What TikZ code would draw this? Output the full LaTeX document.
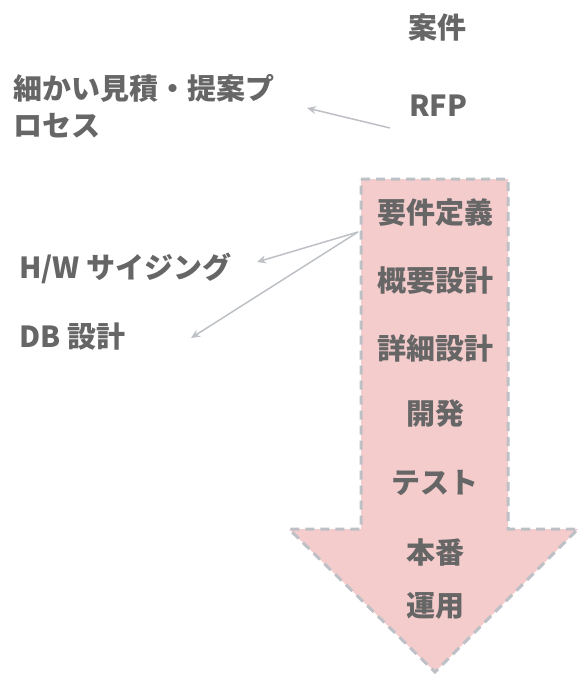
\documentclass[tikz,border=0pt]{standalone}
\usepackage{fontspec}
\newfontfamily\cjk{Noto Sans CJK JP}
\usetikzlibrary{positioning,arrows.meta}
\definecolor{TextGray}{HTML}{666666}
\definecolor{FlowPink}{HTML}{F4CCCC}
\definecolor{LineGray}{HTML}{BDC0C5}
\newcommand*{\shaftL}{361}
\newcommand*{\shaftR}{508}
\newcommand*{\shaftTop}{179}
\newcommand*{\headTop}{529}
\newcommand*{\headL}{289}
\newcommand*{\headR}{578}
\newcommand*{\tipY}{672}
\newcommand*{\midX}{435}

\begin{document}
\begin{tikzpicture}[x=1pt, y=-1pt,
    lbl/.style={text=TextGray, font=\cjk\bfseries\fontsize{29}{37}\selectfont, inner sep=0pt},
    link/.style={draw=LineGray, line width=1.5pt, -{Stealth[length=9pt,width=8pt]}}]
    \useasboundingbox (0,0) rectangle (581,675);

    % big flow arrow
    \filldraw [fill=FlowPink, draw=LineGray, line width=3pt, dash pattern=on 9pt off 6pt]
        (\shaftL,\shaftTop) -- (\shaftR,\shaftTop) -- (\shaftR,\headTop) -- (\headR,\headTop)
        -- (\midX,\tipY) -- (\headL,\headTop) -- (\shaftL,\headTop) -- cycle;

    \foreach \name/\y/\txt in {req/213/要件定義, basic/281/概要設計, detailed/348/詳細設計,
        dev/414/開発, test/483/テスト, release/553/本番, ops/606/運用} {
        \node [lbl] (\name) at (\midX,\y) {\txt};
    }

    \node [lbl] (case) at (437,27) {案件};
    \node [lbl] (rfp) at (438,106) {RFP};
    \node [lbl, anchor=west, align=left] (estimate) at (13,106) {細かい見積・提案プ\\ロセス};
    \node [lbl, anchor=west] (hw) at (19,268) {H/W サイジング};
    \node [lbl, anchor=west] (db) at (19,337) {DB 設計};

    %% connector ends
    \coordinate (rfpTail) at (390,128);
    \coordinate (estimateTip) at (307,108);
    \coordinate (reqTail) at (358,232);
    \coordinate (hwTip) at (257,262);
    \coordinate (dbTip) at (191,338);

    \draw [link] (rfpTail) -- (estimateTip);
    \draw [link] (reqTail) -- (hwTip);
    \draw [link] (reqTail) -- (dbTip);
\end{tikzpicture}
\end{document}
